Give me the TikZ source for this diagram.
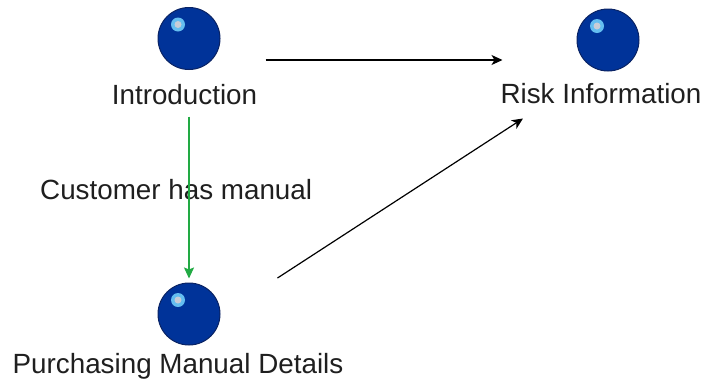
\documentclass[tikz,border=0pt]{standalone}
\usepackage{fontspec}
\setmainfont{Liberation Sans}
\usetikzlibrary{arrows.meta,calc}
\definecolor{ballblue}{RGB}{0,51,153}
\definecolor{balledge}{RGB}{10,35,100}
\definecolor{hilite}{RGB}{100,190,240}
\definecolor{hicore}{RGB}{200,205,215}
\definecolor{linkgreen}{RGB}{34,170,68}
\tikzset{
  ballnode/.style={circle, minimum size=62pt, inner sep=0pt, fill=ballblue, draw=balledge, line width=1pt},
  lbl/.style={inner sep=0pt, font=\fontsize{27.8pt}{30pt}\selectfont, text=black!88},
  blackarrow/.style={draw=black, line width=1.2pt, -{Stealth[length=11pt,width=10pt,inset=3pt]}},
  greenarrow/.style={draw=linkgreen, line width=1.6pt, -{Stealth[length=11pt,width=10pt,inset=2pt]}},
}
\newcommand{\hilitemark}[1]{%
  \fill[hilite] ($(#1.center)+(-11,-14)$) circle (7pt);
  \fill[hicore] ($(#1.center)+(-11,-14)$) circle (3.5pt);
}
\begin{document}
\begin{tikzpicture}[x=1pt,y=-1pt]
\useasboundingbox (0,0) rectangle (705,389);
% balls
\node[ballnode] (intro) at (189,38.5) {};
\node[ballnode] (risk) at (608,40) {};
\node[ballnode] (purch) at (189,314) {};
\hilitemark{intro}
\hilitemark{risk}
\hilitemark{purch}
% labels
\node[lbl, anchor=base] (introL) at (184.5,104) {Introduction};
\node[lbl, anchor=base] (riskL) at (601,103) {Risk Information};
\node[lbl, anchor=base] (purchL) at (178,373) {Purchasing Manual Details};
\node[lbl, anchor=base west] (custL) at (40,199) {Customer has manual};
% connectors
\draw[blackarrow] ($(intro.east)+(45,21.5)$) -- ($(risk.west)+(-74,20)$);
\draw[greenarrow, shorten <=46.5pt, shorten >=4pt] (intro) -- (purch);
\draw[blackarrow] ($(purch.east)+(57,-36)$) -- ($(risk.south)+(-85,47)$);
\end{tikzpicture}
\end{document}
